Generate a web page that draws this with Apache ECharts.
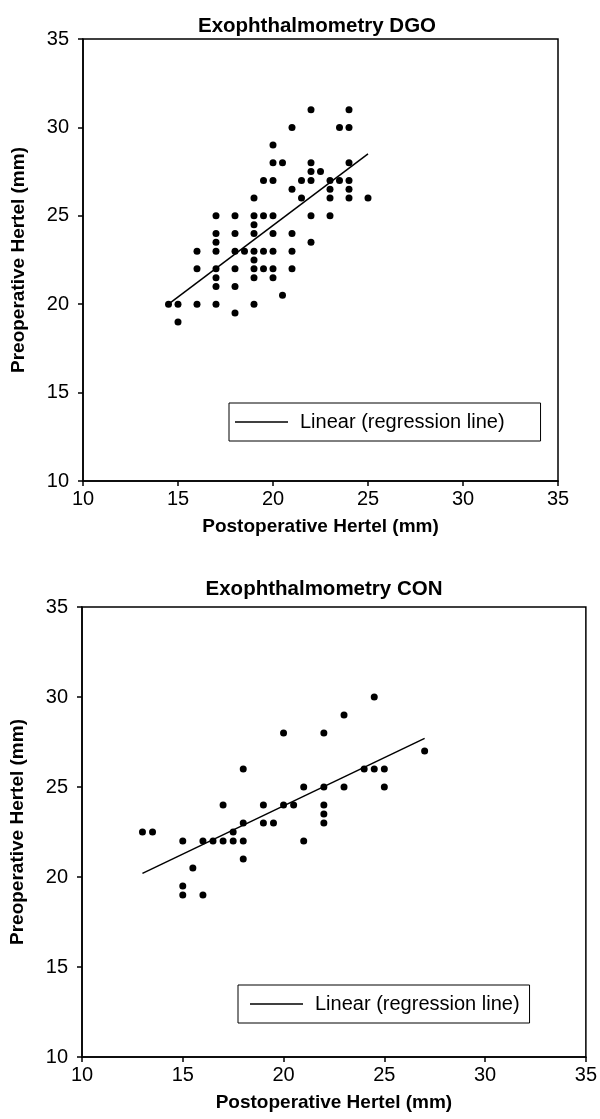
<!DOCTYPE html>
<html>
<head>
<meta charset="utf-8">
<script src="https://cdn.jsdelivr.net/npm/echarts@6/dist/echarts.min.js"></script>
<style>
html,body{margin:0;padding:0;background:#fff;}
#chart{width:600px;height:1119px;}
</style>
</head>
<body>
<div id="chart"></div>
<script>
// ---- data ----
const titles = ['Exophthalmometry DGO', 'Exophthalmometry CON'];
const xAxisName = 'Postoperative Hertel (mm)';
const yAxisName = 'Preoperative Hertel (mm)';
const legendName = 'Linear (regression line)';
const axisMin = 10, axisMax = 35, axisStep = 5;

const dgoPost = [14.5,15,15,16,16,16,17,17,17,17,17,17,17,17,18,18,18,18,18,18,18.5,
  19,19,19,19,19,19,19,19,19,19.5,19.5,19.5,19.5,20,20,20,20,20,20,20,20,20.5,20.5,
  21,21,21,21,21,21.5,21.5,22,22,22,22,22,22,22.5,23,23,23,23,23.5,23.5,24,24,24,24,24,24,25];
const dgoPre = [20,20,19,23,22,20,25,24,23.5,23,22,21.5,21,20,25,24,23,22,21,19.5,23,
  26,25,24.5,24,23,22.5,22,21.5,20,27,25,23,22,29,28,27,25,24,23,22,21.5,28,20.5,
  30,26.5,24,23,22,27,26,31,28,27.5,27,25,23.5,27.5,27,26.5,26,25,30,27,31,30,28,27,26.5,26,26];
const dgoFitX = [14.5, 25];
const dgoFitY = [20, 28.5];

const conPost = [13,13.5,15,15,15,15.5,16,16,16.5,17,17,17.5,17.5,18,18,18,18,19,19,19.5,
  20,20,20.5,21,21,22,22,22,22,22,23,23,24,24.5,24.5,25,25,27];
const conPre = [22.5,22.5,22,19.5,19,20.5,22,19,22,24,22,22.5,22,26,23,22,21,24,23,23,
  28,24,24,25,22,28,25,24,23.5,23,29,25,26,30,26,26,25,27];
const conFitX = [13, 27];
const conFitY = [20.2, 27.7];

function pairs(xs, ys){ return xs.map((x,i)=>[x, ys[i]]); }

// ---- layout ----
const FONT = '"Liberation Sans", Arial, Helvetica, sans-serif';
const grids = [
  {left: 83, top: 39, width: 475, height: 442},
  {left: 78, top: 607, width: 512, height: 450}
];
const legendPos = [
  {left: 229, top: 403, pad: [9, 36, 9, 6]},
  {left: 238, top: 985, pad: [9, 10, 9, 12]}
];
const titlePos = [{x: 312, y: 11}, {x: 319, y: 574}];

function mkAxis(i, dir){
  const isX = dir === 'x';
  return {
    type: 'value', gridIndex: i, min: axisMin, max: axisMax, interval: axisStep,
    name: isX ? xAxisName : yAxisName,
    nameLocation: 'middle',
    nameGap: isX ? 36 : 55,
    nameTextStyle: {fontFamily: FONT, fontWeight: 'bold', fontSize: 19, color: '#000'},
    axisLine: {show: true, onZero: false, lineStyle: {color: '#000', width: 1.5}},
    axisTick: {show: true, inside: false, length: 5, lineStyle: {color: '#000', width: 1.5}},
    axisLabel: {fontFamily: FONT, fontSize: 20, color: '#000', margin: isX ? 8 : 14},
    splitLine: {show: false}
  };
}

const option = {
  animation: false,
  backgroundColor: '#fff',
  title: titles.map((t, i) => ({
    text: t, left: titlePos[i].x, top: titlePos[i].y, textAlign: 'center',
    textStyle: {fontFamily: FONT, fontWeight: 'bold', fontSize: 20.5, color: '#000'}
  })),
  legend: [0, 1].map(i => ({
    data: [{name: legendName, icon: 'rect'}],
    left: legendPos[i].left, top: legendPos[i].top,
    orient: 'horizontal',
    itemWidth: 53, itemHeight: 1.5,
    itemStyle: {color: '#000', borderWidth: 0},
    lineStyle: {width: 0},
    padding: legendPos[i].pad,
    borderColor: '#000', borderWidth: 1,
    textStyle: {fontFamily: FONT, fontSize: 20, color: '#000', padding: [0, 0, 0, 7]},
    selectedMode: false
  })),
  grid: grids.map(g => Object.assign({show: true, borderColor: '#000', borderWidth: 1.5, backgroundColor: '#fff'}, g)),
  xAxis: [mkAxis(0, 'x'), mkAxis(1, 'x')],
  yAxis: [mkAxis(0, 'y'), mkAxis(1, 'y')],
  series: [
    {type: 'scatter', xAxisIndex: 0, yAxisIndex: 0, data: pairs(dgoPost, dgoPre),
     symbolSize: 7, itemStyle: {color: '#000', opacity: 1}},
    {type: 'line', name: legendName, xAxisIndex: 0, yAxisIndex: 0, data: pairs(dgoFitX, dgoFitY),
     symbol: 'none', lineStyle: {color: '#000', width: 1.5}, itemStyle: {color: '#000'}},
    {type: 'scatter', xAxisIndex: 1, yAxisIndex: 1, data: pairs(conPost, conPre),
     symbolSize: 7, itemStyle: {color: '#000', opacity: 1}},
    {type: 'line', name: legendName, xAxisIndex: 1, yAxisIndex: 1, data: pairs(conFitX, conFitY),
     symbol: 'none', lineStyle: {color: '#000', width: 1.5}, itemStyle: {color: '#000'}}
  ]
};

const chart = echarts.init(document.getElementById('chart'), null, {renderer: 'canvas'});
chart.setOption(option);
</script>
</body>
</html>
